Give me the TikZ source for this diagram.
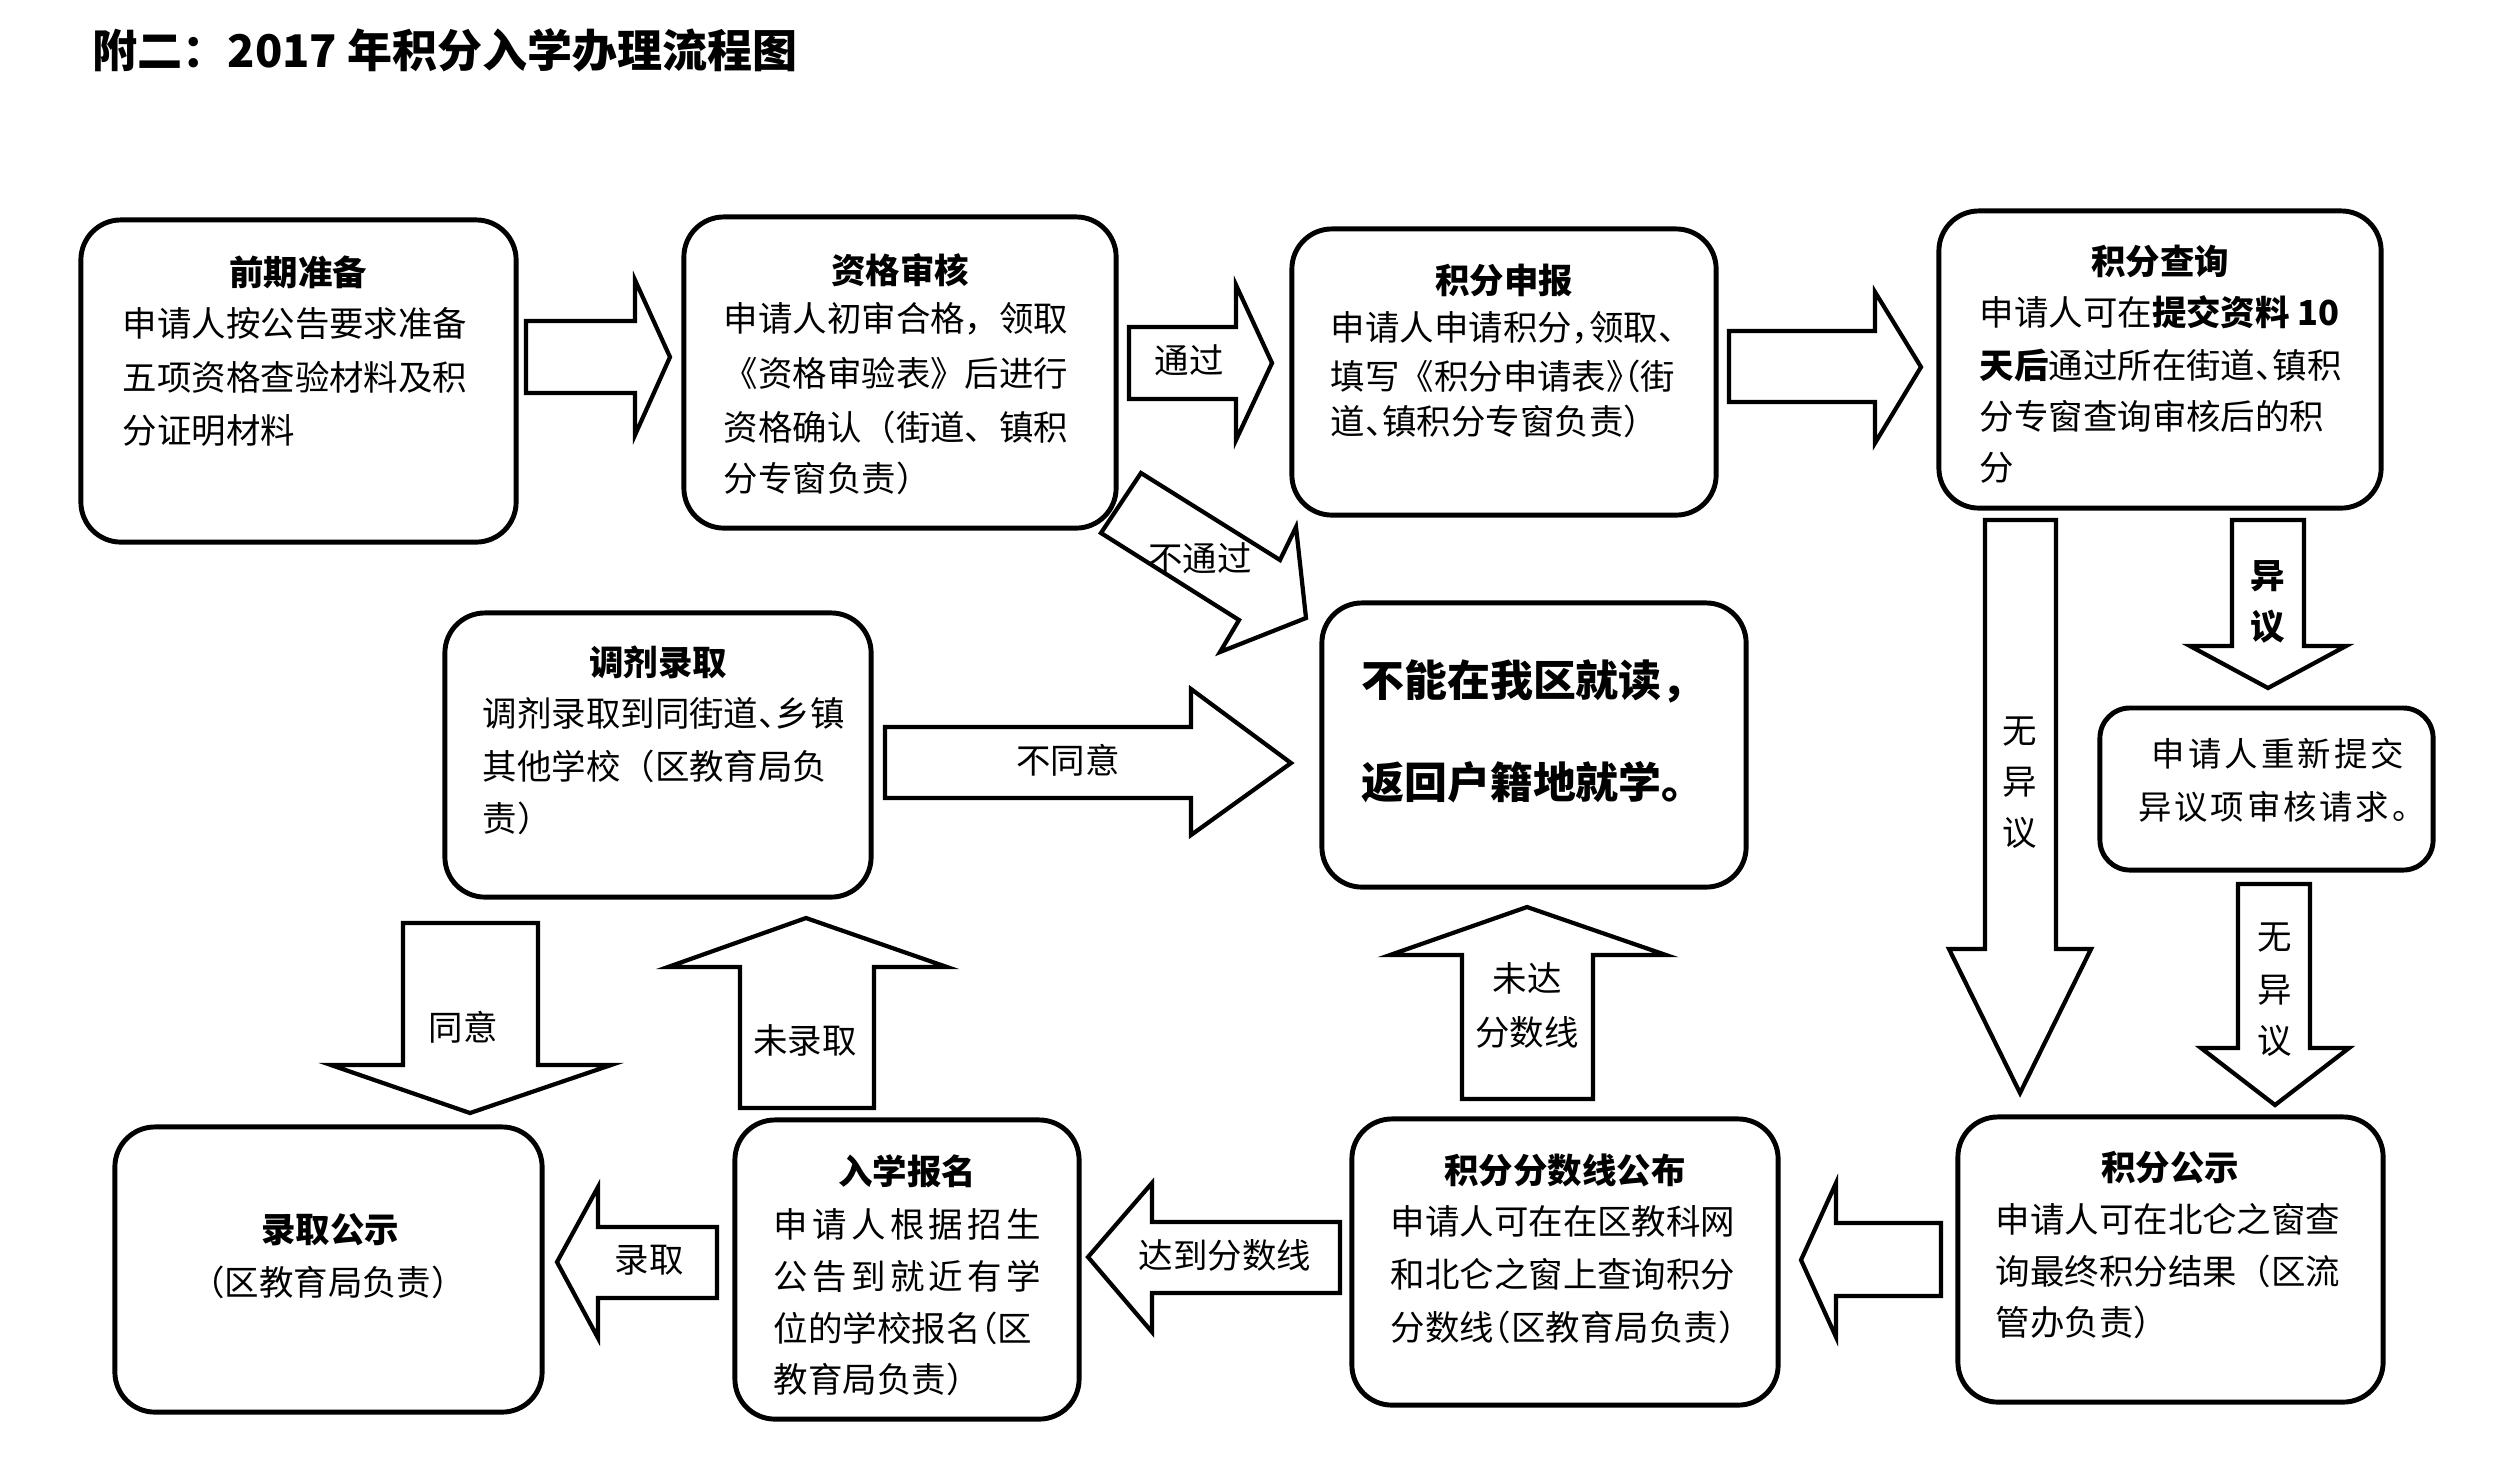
\documentclass[tikz,border=0pt]{standalone}
\usepackage{fontspec}
\setmainfont{Noto Sans CJK SC}
\newcommand\hpl[1]{\makebox[0.5em][l]{#1}}
\newcommand\hpr[1]{\makebox[0.5em][r]{#1}}
\def\spreadloop#1{\ifx\relax#1\else#1\hfil\expandafter\spreadloop\fi}
\newcommand\spreadto[2]{\makebox[#1][s]{\spreadloop#2\relax\unskip}}
\tikzset{
  box/.style={draw, line width=1.4pt, rounded corners=0.4cm, inner sep=0pt},
  blockarrow/.style={draw, line width=1.2pt, fill=white, line join=miter},
  ttl/.style={font=\fontsize{9.8}{12}\selectfont\bfseries, inner sep=0pt, text height=8.6pt, text depth=1.2pt},
  txt/.style={font=\fontsize{9.8}{12}\selectfont, inner sep=0pt, anchor=west, text height=8.6pt, text depth=1.2pt},
  lbl/.style={font=\fontsize{9.8}{12}\selectfont, inner sep=0pt, text height=8.6pt, text depth=1.2pt},
  bigtxt/.style={font=\fontsize{12.2}{14}\selectfont\bfseries, inner sep=0pt, text height=10.7pt, text depth=1.5pt},
}
\begin{document}
\begin{tikzpicture}[x=0.01cm, y=-0.01cm]
\fill[white] (0,0) rectangle (2500,1462);
\useasboundingbox (0,0) rectangle (2500,1462);

% title
\node[anchor=west, inner sep=0pt, font=\fontsize{12.8}{15}\selectfont\bfseries] (title) at (92,50) {附二：2017 年积分入学办理流程图};

% boxes
\node[box, minimum width=4.35cm, minimum height=3.22cm] (b1) at (298.5,381) {};
\node[box, minimum width=4.32cm, minimum height=3.11cm] (b2) at (900,372.5) {};
\node[box, minimum width=4.24cm, minimum height=2.86cm] (b3) at (1504,372) {};
\node[box, minimum width=4.42cm, minimum height=2.97cm] (b4) at (2160,359.5) {};
\node[box, minimum width=4.26cm, minimum height=2.84cm] (b5) at (658,755) {};
\node[box, minimum width=4.24cm, minimum height=2.84cm] (b6) at (1534,745) {};
\node[box, minimum width=3.33cm, minimum height=1.62cm, rounded corners=0.3cm] (b7) at (2266.5,789) {};
\node[box, minimum width=4.27cm, minimum height=2.85cm] (b8) at (328.5,1269.5) {};
\node[box, minimum width=3.44cm, minimum height=2.99cm] (b9) at (907,1269.5) {};
\node[box, minimum width=4.26cm, minimum height=2.86cm] (b10) at (1565,1262) {};
\node[box, minimum width=4.25cm, minimum height=2.85cm] (b11) at (2170.5,1259.5) {};

% box texts
\node[ttl] (t1) at (298,272) {前期准备};
\node[txt] (t1a) at (122,323) {申请人按公告要求准备};
\node[txt] (t1b) at (122,377) {五项资格查验材料及积};
\node[txt] (t1c) at (122,430) {分证明材料};

\node[ttl] (t2) at (900,270) {资格审核};
\node[txt] (t2a) at (723,318) {申请人初审合格，领取};
\node[txt] (t2b) at (723,373) {《资格审验表》后进行};
\node[txt] (t2c) at (723,427) {资格确认（街道、镇积};
\node[txt] (t2d) at (723,478) {分专窗负责）};

\node[ttl] (t3) at (1504,280) {积分申报};
\node[txt] (t3a) at (1330,327) {申请人申请积分\hpl{，}领取\hpl{、}};
\node[txt] (t3b) at (1330,376) {填写《积分申请表\hpl{》}\hpr{（}街};
\node[txt] (t3c) at (1330,421) {道\hpl{、}镇积分专窗负责）};

\node[ttl] (t4) at (2160,261) {积分查询};
\node[txt] (t4a) at (1979,312) {申请人可在\textbf{提交资料 10}};
\node[txt] (t4b) at (1979,365) {\textbf{天后}通过所在街道\hpl{、}镇积};
\node[txt] (t4c) at (1979,416) {分专窗查询审核后的积};
\node[txt] (t4d) at (1979,467) {分};

\node[ttl] (t5) at (658,662) {调剂录取};
\node[txt] (t5a) at (482,713) {调剂录取到同街道\hpl{、}乡镇};
\node[txt] (t5b) at (482,766) {其他学校（区教育局负};
\node[txt] (t5c) at (482,818) {责）};

\node[bigtxt] (t6a) at (1533,680) {不能在我区就读，};
\node[bigtxt] (t6b) at (1533,782) {返回户籍地就学。};

\node[lbl, font=\fontsize{9.5}{12}\selectfont] (t7a) at (2278,753) {\spreadto{2.52cm}{申请人重新提交}};
\node[lbl, font=\fontsize{9.5}{12}\selectfont] (t7b) at (2282,806) {\spreadto{2.87cm}{异议项审核请求。}};

\node[ttl] (t8) at (330,1229) {录取公示};
\node[lbl] (t8a) at (328,1282) {（区教育局负责）};

\node[ttl] (t9) at (907,1171) {入学报名};
\node[txt] (t9a) at (773,1224) {\spreadto{2.67cm}{申请人根据招生}};
\node[txt] (t9b) at (773,1276) {\spreadto{2.67cm}{公告到就近有学}};
\node[txt] (t9c) at (773,1328) {位的学校报名\hpr{（}区};
\node[txt] (t9d) at (773,1379) {教育局负责）};

\node[ttl] (t10) at (1565,1170) {积分分数线公布};
\node[txt] (t10a) at (1390,1221) {申请人可在在区教科网};
\node[txt] (t10b) at (1390,1274) {和北仑之窗上查询积分};
\node[txt] (t10c) at (1390,1327) {分数线\hpr{（}区教育局负责）};

\node[ttl] (t11) at (2170,1167) {积分公示};
\node[txt] (t11a) at (1995,1219) {申请人可在北仑之窗查};
\node[txt] (t11b) at (1995,1271) {询最终积分结果（区流};
\node[txt] (t11c) at (1995,1322) {管办负责）};

% block arrows
\draw[blockarrow] (526,321) -- (635,321) -- (635,280) -- (670,357) -- (635,435) -- (635,393) -- (526,393) -- cycle;
\draw[blockarrow] (1129,327) -- (1236,327) -- (1236,285) -- (1272,363) -- (1236,440) -- (1236,399) -- (1129,399) -- cycle;
\draw[blockarrow] (1729,331) -- (1875,331) -- (1875,292) -- (1921,367) -- (1875,443) -- (1875,402) -- (1729,402) -- cycle;
\draw[blockarrow] (1141,473) -- (1280,560) -- (1296,527) -- (1306,618) -- (1220,652) -- (1239,620) -- (1101,533) -- cycle;
\draw[blockarrow] (885,727) -- (1191,727) -- (1191,689) -- (1291,763) -- (1191,835) -- (1191,798) -- (885,798) -- cycle;
\draw[blockarrow] (403,923) -- (538,923) -- (538,1065) -- (611,1065) -- (470,1113) -- (331,1065) -- (403,1065) -- cycle;
\draw[blockarrow] (740,1108) -- (874,1108) -- (874,967) -- (947,967) -- (806,918) -- (668,967) -- (740,967) -- cycle;
\draw[blockarrow] (717,1227) -- (598,1227) -- (598,1187) -- (557,1262) -- (598,1338) -- (598,1298) -- (717,1298) -- cycle;
\draw[blockarrow] (1340,1222) -- (1152,1222) -- (1152,1183) -- (1088,1257) -- (1152,1332) -- (1152,1293) -- (1340,1293) -- cycle;
\draw[blockarrow] (1462,1099) -- (1593,1099) -- (1593,955) -- (1666,955) -- (1527,907) -- (1390,955) -- (1462,955) -- cycle;
\draw[blockarrow] (1941,1223) -- (1836,1223) -- (1836,1183) -- (1801,1260) -- (1836,1337) -- (1836,1296) -- (1941,1296) -- cycle;
\draw[blockarrow] (1985,520) -- (2056,520) -- (2056,949) -- (2091,949) -- (2020,1093) -- (1949,949) -- (1985,949) -- cycle;
\draw[blockarrow] (2232,520) -- (2304,520) -- (2304,646) -- (2346,646) -- (2268,688) -- (2190,646) -- (2232,646) -- cycle;
\draw[blockarrow] (2238,884) -- (2310,884) -- (2310,1048) -- (2349,1048) -- (2275,1105) -- (2201,1048) -- (2238,1048) -- cycle;

% arrow labels
\node[lbl] (l1) at (1189,360) {通过};
\node[lbl] (l2) at (1200,558) {不通过};
\node[lbl] (l3) at (1068,760) {不同意};
\node[lbl] (l4) at (463,1027) {同意};
\node[lbl] (l5) at (805,1040) {未录取};
\node[lbl] (l6) at (649,1259) {录取};
\node[lbl] (l7) at (1225,1255) {达到分数线};
\node[lbl] (l8) at (1527,978) {未达};
\node[lbl] (l9) at (1527,1032) {分数线};
\node[lbl] (l10a) at (2020,730) {无};
\node[lbl] (l10b) at (2020,781) {异};
\node[lbl] (l10c) at (2020,832) {议};
\node[lbl, font=\fontsize{9.8}{12}\selectfont\bfseries] (l11a) at (2268,575) {异};
\node[lbl, font=\fontsize{9.8}{12}\selectfont\bfseries] (l11b) at (2268,626) {议};
\node[lbl] (l12a) at (2275,936) {无};
\node[lbl] (l12b) at (2275,989) {异};
\node[lbl] (l12c) at (2275,1040) {议};
\end{tikzpicture}
\end{document}
